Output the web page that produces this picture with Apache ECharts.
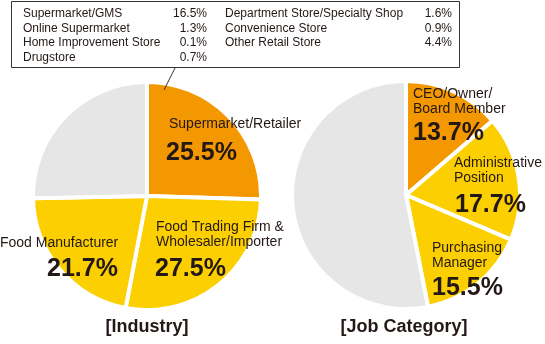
<!DOCTYPE html>
<html><head><meta charset="utf-8">
<script src="https://cdn.jsdelivr.net/npm/echarts@6/dist/echarts.min.js"></script>
<style>html,body{margin:0;padding:0;background:#fff}#c{width:545px;height:344px}</style>
</head><body><div id="c"></div>
<script>
// Industry pie
const industryNames = ['Supermarket/Retailer', 'Food Trading Firm &\nWholesaler/Importer', 'Food Manufacturer', 'Other'];
const industryValues = [25.5, 27.5, 21.7, 25.3];
// Job category pie
const jobNames = ['CEO/Owner/\nBoard Member', 'Administrative\nPosition', 'Purchasing\nManager', 'Other'];
const jobValues = [13.7, 17.7, 15.5, 53.1];
// Retailer breakdown box
const boxCol1Names = ['Supermarket/GMS', 'Online Supermarket', 'Home Improvement Store', 'Drugstore'];
const boxCol1Values = ['16.5%', '1.3%', '0.1%', '0.7%'];
const boxCol2Names = ['Department Store/Specialty Shop', 'Convenience Store', 'Other Retail Store'];
const boxCol2Values = ['1.6%', '0.9%', '4.4%'];
const titles = ['[Industry]', '[Job Category]'];

const ORANGE = '#F39800', YELLOW = '#FCD000', GRAY = '#E6E6E6', TXT = '#231815';
const FONT = 'Liberation Sans, Arial, sans-serif';
const colorsA = [ORANGE, YELLOW, YELLOW, GRAY];
const colorsB = [ORANGE, YELLOW, YELLOW, GRAY];

function pieData(names, values, colors) {
  return names.map((n, i) => ({ name: n, value: values[i], itemStyle: { color: colors[i] } }));
}

const chart = echarts.init(document.getElementById('c'), null, { renderer: 'canvas' });

const graphic = [];
// box
graphic.push({ type: 'rect', shape: { x: 11.5, y: 1.5, width: 448, height: 66 }, style: { fill: '#fff', stroke: '#333', lineWidth: 1 }, z: 10 });
graphic.push({ type: 'line', shape: { x1: 175, y1: 68, x2: 164, y2: 90 }, style: { stroke: '#333', lineWidth: 1 }, z: 10 });
const rowY = [14, 28.5, 43, 57.5];
function t(text, x, y, size, bold, align) {
  graphic.push({ type: 'text', z: 20, style: { text: text, x: x, y: y, fill: TXT, font: (bold ? 'bold ' : '') + size + 'px ' + FONT, textAlign: align || 'left', textVerticalAlign: 'middle' } });
}
boxCol1Names.forEach((n, i) => { t(n, 23, rowY[i], 12); t(boxCol1Values[i], 207, rowY[i], 12, false, 'right'); });
boxCol2Names.forEach((n, i) => { t(n, 225, rowY[i], 12); t(boxCol2Values[i], 452, rowY[i], 12, false, 'right'); });

// pie labels
function label(name, value, x, y, vx, vy) {
  const lines = name.split('\n');
  lines.forEach((l, i) => t(l, x, y + i * 15.5, 14));
  t(value.toFixed(1) + '%', vx, vy, 25, true);
}
label(industryNames[0], industryValues[0], 169, 124, 166, 153);
label(industryNames[1], industryValues[1], 156, 227, 155, 269);
label(industryNames[2], industryValues[2], 0, 243, 47, 269);
label(jobNames[0], jobValues[0], 413, 94, 413, 133);
label(jobNames[1], jobValues[1], 454, 163, 455, 205);
label(jobNames[2], jobValues[2], 432, 248, 432, 288);
t(titles[0], 147, 327, 18, true, 'center');
t(titles[1], 404, 327, 18, true, 'center');

chart.setOption({
  animation: false,
  backgroundColor: '#fff',
  graphic: graphic,
  series: [
    { type: 'pie', center: [147, 196], radius: [0, 114], startAngle: 90, clockwise: true,
      label: { show: false }, labelLine: { show: false }, silent: true,
      itemStyle: { borderColor: '#fff', borderWidth: 4 },
      data: pieData(industryNames, industryValues, colorsA) },
    { type: 'pie', center: [406, 195], radius: [0, 114], startAngle: 90, clockwise: true,
      label: { show: false }, labelLine: { show: false }, silent: true,
      itemStyle: { borderColor: '#fff', borderWidth: 4 },
      data: pieData(jobNames, jobValues, colorsB) }
  ]
});
</script></body></html>
